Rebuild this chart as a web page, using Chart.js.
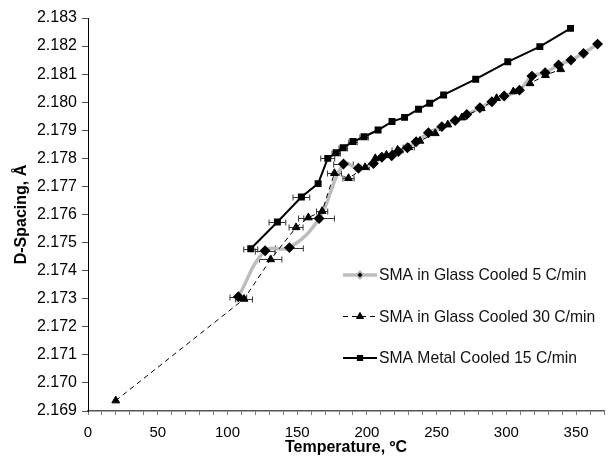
<!DOCTYPE html>
<html>
<head>
<meta charset="utf-8">
<script src="https://cdn.jsdelivr.net/npm/chart.js@4.4.1/dist/chart.umd.min.js"></script>
<style>
  body { margin: 0; background: #fff; }
  #wrap { width: 614px; height: 461px; }
</style>
</head>
<body>
<div id="wrap"><canvas id="chartContainer" width="614" height="461"></canvas></div>
<script>
// Daten (Temperatur in ºC, D-Spacing in Å, Fehler = ± Temperatur)
var glass5T = [107.8, 127, 144.4, 165.7, 183.2, 193.9, 204.7, 210.7, 217.8, 222.6, 229, 235.3, 244.1, 253.7, 263.3, 271.6, 281, 289.6, 298.4, 309.4, 318.3, 327.8, 337.4, 346.3, 355.3, 365.4];
var glass5D = [2.17307, 2.17471, 2.17482, 2.17586, 2.17780, 2.17765, 2.17782, 2.17804, 2.17809, 2.17824, 2.17838, 2.17859, 2.17891, 2.17913, 2.17935, 2.17956, 2.17980, 2.18002, 2.18022, 2.18043, 2.18093, 2.18105, 2.18133, 2.18150, 2.18174, 2.18207];
var glass5Err = [6, 7, 10, 11, 7, 0, 0, 0, 0, 0, 0, 0, 0, 0, 0, 0, 0, 0, 0, 0, 0, 0, 0, 0, 0, 0];

var glass30T = [19.9, 111.9, 131, 149.2, 158, 167.9, 176.7, 186.8, 198.7, 206, 214, 222, 230, 238, 249, 258, 268, 282, 293, 305, 317, 328, 339];
var glass30D = [2.16937, 2.17299, 2.17440, 2.17554, 2.17589, 2.17612, 2.17747, 2.17729, 2.17768, 2.17800, 2.17812, 2.17830, 2.17839, 2.17862, 2.17889, 2.17920, 2.17945, 2.17978, 2.18014, 2.18038, 2.18067, 2.18096, 2.18117];
var glass30Err = [0, 6, 8, 5, 7, 4, 5, 4, 3, 0, 0, 4, 4, 0, 0, 0, 0, 0, 0, 0, 0, 0, 0];

var metalT = [116.7, 135.8, 153.0, 165.0, 171.9, 178, 183, 190, 198, 208, 218, 227, 237, 245, 255, 278, 301, 324, 346];
var metalD = [2.17478, 2.17573, 2.17662, 2.17710, 2.17800, 2.17820, 2.17838, 2.17860, 2.17877, 2.17901, 2.17931, 2.17946, 2.17975, 2.17996, 2.18026, 2.18082, 2.18144, 2.18198, 2.18263];
var metalErr = [5, 6, 6, 0, 5, 3, 3, 3, 3, 0, 0, 0, 0, 0, 0, 0, 0, 0, 0];

var seriesNames = ['SMA in Glass Cooled 5 C/min', 'SMA in Glass Cooled 30 C/min', 'SMA Metal Cooled 15 C/min'];
var xTickLabels = [0, 50, 100, 150, 200, 250, 300, 350];

function toPoints(xs, ys) {
    return xs.map(function(x, i) { return { x: x, y: ys[i] }; });
}

var errList = [glass5Err, glass30Err, metalErr];
var FONT = "'Liberation Sans', Arial, sans-serif";

// horizontale Fehlerbalken
var errorBars = {
    id: 'errorBars',
    beforeDatasetsDraw: function(chart) {
        var ctx = chart.ctx;
        var xs = chart.scales.x, ys = chart.scales.y;
        ctx.save();
        ctx.strokeStyle = '#333';
        ctx.lineWidth = 1;
        chart.data.datasets.forEach(function(ds, d) {
            ds.data.forEach(function(p, i) {
                var e = errList[d][i];
                if (!e) return;
                var x1 = xs.getPixelForValue(p.x - e);
                var x2 = xs.getPixelForValue(p.x + e);
                var y = Math.round(ys.getPixelForValue(p.y)) + 0.5;
                ctx.beginPath();
                ctx.moveTo(x1, y); ctx.lineTo(x2, y);
                ctx.moveTo(x1, y - 3); ctx.lineTo(x1, y + 3);
                ctx.moveTo(x2, y - 3); ctx.lineTo(x2, y + 3);
                ctx.stroke();
            });
        });
        ctx.restore();
    }
};

// Legende innerhalb des Diagramms
var boxLegend = {
    id: 'boxLegend',
    afterDraw: function(chart) {
        var ctx = chart.ctx;
        var x0 = 343, x1 = 377, y0 = 275, gap = 41.5;
        ctx.save();
        chart.data.datasets.forEach(function(ds, i) {
            var y = y0 + i * gap;
            ctx.beginPath();
            ctx.strokeStyle = ds.borderColor;
            ctx.lineWidth = ds.borderWidth;
            ctx.setLineDash(ds.borderDash || []);
            ctx.moveTo(x0, y); ctx.lineTo(x1, y);
            ctx.stroke();
            ctx.setLineDash([]);
            Chart.helpers.drawPoint(ctx, {
                pointStyle: ds.pointStyle, radius: ds.pointRadius - 0.5, borderWidth: 1
            }, (x0 + x1) / 2, y);
            ctx.fillStyle = '#000';
            ctx.fill();
            ctx.font = '15.7px ' + FONT;
            ctx.fillStyle = '#111';
            ctx.textBaseline = 'middle';
            ctx.fillText(seriesNames[i], x1 + 2, y + 1);
        });
        ctx.restore();
    }
};

var ctx = document.getElementById('chartContainer').getContext('2d');
var myChart = new Chart(ctx, {
    type: 'scatter',
    data: {
        datasets: [{
            label: seriesNames[0],
            data: toPoints(glass5T, glass5D),
            showLine: true,
            borderColor: '#bdbdbd',
            borderWidth: 3.5,
            tension: 0.4,
            pointStyle: 'rectRot',
            pointRadius: 3,
            pointBackgroundColor: '#000',
            pointBorderColor: '#000',
            order: 3
        }, {
            label: seriesNames[1],
            data: toPoints(glass30T, glass30D),
            showLine: true,
            borderColor: '#000',
            borderWidth: 1,
            borderDash: [5, 4],
            tension: 0,
            pointStyle: 'triangle',
            pointRadius: 4.5,
            pointBackgroundColor: '#000',
            pointBorderColor: '#000',
            order: 2
        }, {
            label: seriesNames[2],
            data: toPoints(metalT, metalD),
            showLine: true,
            borderColor: '#000',
            borderWidth: 2,
            tension: 0,
            pointStyle: 'rect',
            pointRadius: 3.5,
            pointBackgroundColor: '#000',
            pointBorderColor: '#000',
            order: 1
        }]
    },
    options: {
        responsive: false,
        animation: false,
        layout: { padding: { top: 18, right: 10, left: 0, bottom: 0 } },
        plugins: { legend: { display: false }, tooltip: { enabled: false } },
        scales: {
            x: {
                type: 'linear',
                min: 0, max: 370,
                afterFit: function(s) { s.height = 50; },
                border: { color: '#555', width: 1.5 },
                grid: { drawOnChartArea: false, tickLength: 4, tickColor: '#777' },
                ticks: {
                    stepSize: 10,
                    autoSkip: false,
                    maxRotation: 0,
                    padding: 9,
                    color: '#000',
                    font: { family: FONT, size: 15 },
                    callback: function(v) { return xTickLabels.indexOf(v) >= 0 ? String(v) : ''; }
                },
                title: {
                    display: true,
                    text: 'Temperature, ºC',
                    color: '#000',
                    padding: { top: 0, bottom: 4 },
                    font: { family: FONT, size: 16, weight: 'bold' }
                }
            },
            y: {
                type: 'linear',
                min: 2.169, max: 2.183,
                afterFit: function(s) { s.width = 88; },
                border: { color: '#000', width: 1 },
                grid: { drawOnChartArea: false, tickLength: 6, tickColor: '#555' },
                ticks: {
                    stepSize: 0.001,
                    autoSkip: false,
                    padding: 5,
                    color: '#000',
                    font: { family: FONT, size: 16 },
                    callback: function(v) { return v.toFixed(3); }
                },
                title: {
                    display: true,
                    text: 'D-Spacing, Å',
                    color: '#000',
                    padding: { top: 12, bottom: 0 },
                    font: { family: FONT, size: 16, weight: 'bold' }
                }
            }
        }
    },
    plugins: [errorBars, boxLegend]
});
</script>
</body>
</html>
